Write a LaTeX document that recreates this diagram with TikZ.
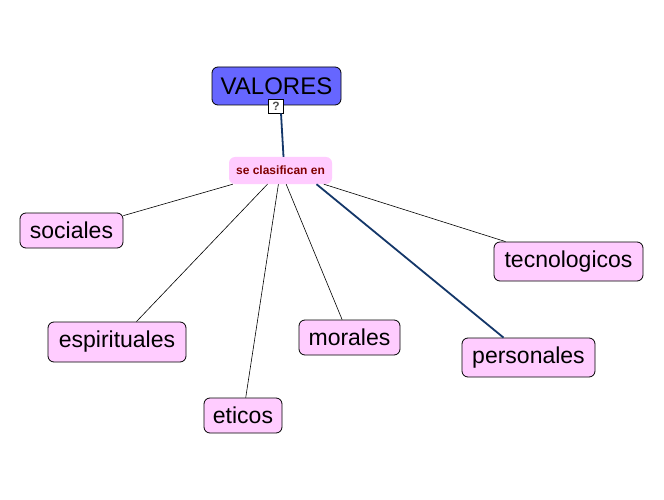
\documentclass[tikz,border=0pt]{standalone}
\usepackage{fontspec}
\setmainfont{Liberation Sans}
\usetikzlibrary{calc}
\definecolor{pinkfill}{RGB}{255,204,255}
\definecolor{bluefill}{RGB}{102,102,255}
\definecolor{linkblue}{RGB}{20,55,105}
\definecolor{darkred}{RGB}{128,0,0}
\begin{document}
\begin{tikzpicture}[x=1pt,y=-1pt,
  concept/.style={draw=black, line width=0.8pt, fill=pinkfill, rounded corners=6pt,
    inner sep=0pt, font=\fontsize{23}{26}\selectfont, text=black},
  mainbox/.style={draw=black, line width=0.8pt, fill=bluefill, rounded corners=6pt,
    inner sep=0pt, font=\fontsize{24}{27}\selectfont, text=black},
  linkbox/.style={fill=pinkfill, rounded corners=6pt, inner sep=0pt,
    font=\fontsize{12}{14}\selectfont\bfseries, text=darkred},
  qbox/.style={draw=black, line width=0.6pt, fill=white, inner sep=0pt,
    minimum width=15pt, minimum height=14pt, font=\fontsize{12}{14}\selectfont\bfseries, text=black!70},
  thin/.style={draw=black, line width=0.6pt},
  thick link/.style={draw=linkblue, line width=1.8pt}]
\useasboundingbox (0,0) rectangle (664,500);
\fill[white] (0,0) rectangle (664,500);

\node[mainbox, minimum width=129pt, minimum height=38pt] (val) at (276.5,86) {VALORES};
\node[qbox] (q) at (276,106) {?};
\node[linkbox, minimum width=103pt, minimum height=27pt] (sc) at (280.5,170.5) {se clasifican en};

\node[concept, minimum width=103pt, minimum height=35pt] (soc) at (71.5,230.5) {sociales};
\node[concept, minimum width=138pt, minimum height=40pt] (esp) at (117,342) {espirituales};
\node[concept, minimum width=78pt, minimum height=35pt] (eti) at (243,415.5) {eticos};
\node[concept, minimum width=101pt, minimum height=35pt] (mor) at (349.5,337.5) {morales};
\node[concept, minimum width=133pt, minimum height=39pt] (per) at (528.5,357.5) {personales};
\node[concept, minimum width=149pt, minimum height=39pt] (tec) at (568.5,261.5) {tecnologicos};

\draw[thick link] ($(q.south)+(5,0)$) -- ($(sc.north)+(3,0)$);
\draw[thin] (sc) -- (soc);
\draw[thin] (sc) -- (esp);
\draw[thin] (sc) -- (eti);
\draw[thin] (sc) -- (mor);
\draw[thick link] ($(sc.south)+(36,0)$) -- ($(per.north)+(-25,0)$);
\draw[thin] (sc) -- (tec);
\end{tikzpicture}
\end{document}
